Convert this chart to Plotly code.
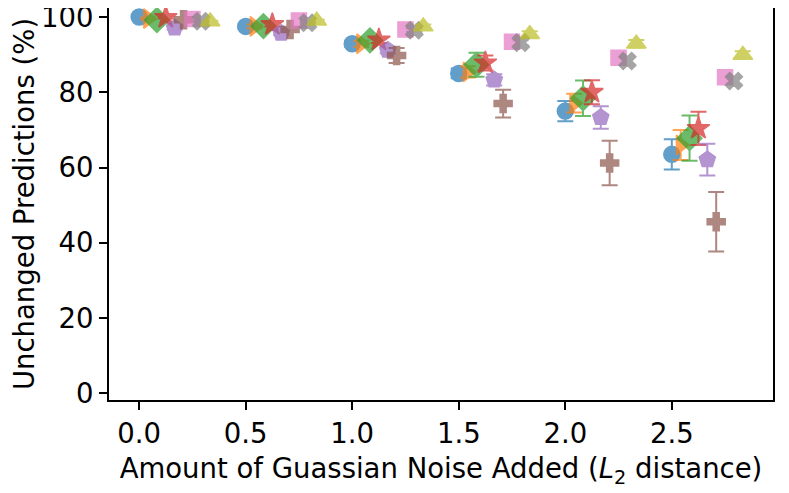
import plotly.graph_objects as go

noise = [0.0, 0.5, 1.0, 1.5, 2.0, 2.5]

# unchanged predictions (%) and error per model
blue = [100.0, 97.5, 92.9, 85.0, 75.0, 63.5]
blue_err = [0.3, 0.5, 0.8, 1.3, 2.7, 4.0]
orange = [99.6, 97.5, 92.9, 85.4, 77.1, 66.0]
orange_err = [0.3, 0.5, 0.8, 1.5, 2.5, 4.0]
green = [99.2, 97.6, 93.8, 87.3, 78.4, 67.8]
green_err = [0.3, 0.6, 1.0, 3.2, 4.7, 6.0]
red = [99.9, 98.0, 93.9, 87.8, 80.0, 70.4]
red_err = [0.3, 0.5, 0.8, 2.0, 3.2, 4.4]
purple = [97.1, 95.7, 91.2, 83.3, 73.3, 62.1]
purple_err = [0.4, 0.5, 0.8, 1.5, 3.0, 4.2]
brown = [99.3, 96.7, 89.8, 77.0, 61.2, 45.6]
brown_err = [0.4, 0.6, 2.0, 3.7, 5.9, 7.9]
pink = [99.5, 99.1, 96.7, 93.4, 89.2, 84.0]
pink_err = [0.2, 0.3, 0.5, 0.8, 1.0, 1.0]
gray = [98.9, 98.5, 96.5, 93.2, 88.3, 83.0]
gray_err = [0.2, 0.3, 0.5, 0.8, 1.0, 1.0]
olive = [98.8, 99.0, 97.5, 95.4, 92.9, 89.9]
olive_err = [0.2, 0.3, 0.5, 0.8, 1.0, 1.0]

series = [
    (blue, blue_err, "#1f77b4", "circle", 16),
    (orange, orange_err, "#ff7f0e", "triangle-right", 17),
    (green, green_err, "#2ca02c", "diamond", 19),
    (red, red_err, "#d62728", "star", 17),
    (purple, purple_err, "#9467bd", "pentagon", 17),
    (brown, brown_err, "#8c564b", "cross", 15),
    (pink, pink_err, "#e377c2", "square", 15),
    (gray, gray_err, "#7f7f7f", "x", 15),
    (olive, olive_err, "#bcbd22", "triangle-up", 17),
]

fig = go.Figure()
for i, (vals, errs, col, sym, sz) in enumerate(series):
    xs = [n + i / 24 for n in noise]  # small shift so markers don't overlap
    fig.add_trace(go.Scatter(
        x=xs, y=vals, mode="markers", opacity=0.7,
        marker=dict(symbol=sym, size=sz, color=col, line=dict(width=1.5, color=col)),
        error_y=dict(type="data", array=errs, color=col, thickness=2, width=8),
        showlegend=False,
    ))

# page body has an 8px margin, so the figure is a bit smaller than the window
axis_font = dict(family="DejaVu Sans", size=27.5, color="black")
fig.update_layout(
    width=781, height=485,
    margin=dict(l=101, r=16, t=0, b=93),
    paper_bgcolor="white", plot_bgcolor="white",
    font=axis_font,
)
fig.update_xaxes(
    range=[-0.1416, 2.975], tickvals=[0, 0.5, 1.0, 1.5, 2.0, 2.5],
    ticktext=["0.0", "0.5", "1.0", "1.5", "2.0", "2.5"],
    showgrid=False, zeroline=False, showline=True, linecolor="black", linewidth=2,
    mirror=True, ticks="outside", ticklen=8, tickwidth=1.6, tickcolor="black",
    tickfont=axis_font, automargin=False, ticklabeloverflow="allow",
    title=dict(text="Amount of Guassian Noise Added (<i>L</i><sub>2</sub> distance)",
               font=axis_font, standoff=11),
)
fig.update_yaxes(
    range=[-1.8, 102.4], tickvals=[0, 20, 40, 60, 80, 100],
    showgrid=False, zeroline=False, showline=True, linecolor="black", linewidth=2,
    mirror=True, ticks="outside", ticklen=8, tickwidth=1.6, tickcolor="black",
    tickfont=axis_font, automargin=False, ticklabeloverflow="allow",
    title=dict(text="Unchanged Predictions (%)", font=axis_font, standoff=16),
)

fig.write_html("out.html")
